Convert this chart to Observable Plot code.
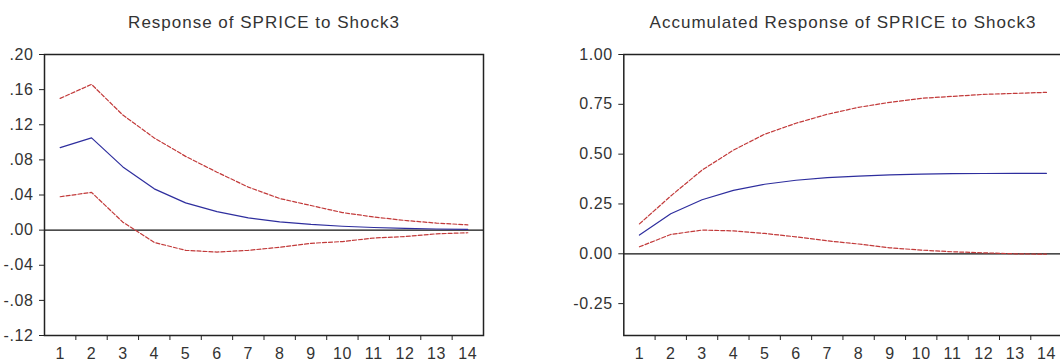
<!DOCTYPE html>
<html>
<head>
<meta charset="utf-8">
<script src="https://cdn.jsdelivr.net/npm/d3@7"></script>
<script src="https://cdn.jsdelivr.net/npm/@observablehq/plot@0.6"></script>
<style>
  html, body { margin: 0; padding: 0; background: #fff; overflow: hidden; width: 1060px; height: 363px; }
  .panel { position: absolute; top: 40px; }
  .title { position: absolute; top: 13.5px; font-family: "Liberation Sans", Arial, sans-serif; font-size: 17px; line-height: 17px; color: #333; letter-spacing: 1px; white-space: nowrap; transform: translateX(-50%); }
</style>
</head>
<body>
<div class="title" style="left:264px">Response of SPRICE to Shock3</div>
<div class="title" style="left:843px">Accumulated Response of SPRICE to Shock3</div>
<div class="panel" id="left" style="left:0px;width:530px"></div>
<div class="panel" id="right" style="left:530px;width:540px"></div>
<script>
// Periods (x categories)
const periods = [1, 2, 3, 4, 5, 6, 7, 8, 9, 10, 11, 12, 13, 14];

// Response of SPRICE to Shock3 (impulse response, +/- 2 S.E.)
const response      = [0.094, 0.105, 0.072, 0.047, 0.031, 0.021, 0.014, 0.0095, 0.0065, 0.0044, 0.003, 0.002, 0.0013, 0.0009];
const responseUpper = [0.150, 0.166, 0.131, 0.105, 0.084, 0.066, 0.049, 0.036, 0.028, 0.020, 0.015, 0.011, 0.008, 0.006];
const responseLower = [0.038, 0.043, 0.009, -0.014, -0.023, -0.025, -0.023, -0.0195, -0.015, -0.013, -0.009, -0.0073, -0.0042, -0.003];

// Accumulated response of SPRICE to Shock3
const accumulated      = [0.094, 0.201, 0.271, 0.318, 0.349, 0.369, 0.382, 0.390, 0.396, 0.400, 0.402, 0.403, 0.404, 0.404];
const accumulatedUpper = [0.150, 0.290, 0.420, 0.520, 0.600, 0.655, 0.700, 0.735, 0.760, 0.780, 0.790, 0.800, 0.805, 0.810];
const accumulatedLower = [0.035, 0.097, 0.119, 0.115, 0.102, 0.085, 0.065, 0.049, 0.030, 0.0185, 0.010, 0.005, 0.000, -0.002];

// Tick labels
const leftYTicks  = [-0.12, -0.08, -0.04, 0, 0.04, 0.08, 0.12, 0.16, 0.20];
const rightYTicks = [-0.25, 0, 0.25, 0.50, 0.75, 1.00];

const BLUE = "#2e2e9e";
const RED = "#c23a3a";

function series(values) {
  return periods.map((p, i) => ({period: p, value: values[i]}));
}

function panel({mid, upper, lower, yDomain, yTicks, yFormat, width, marginLeft, marginRight}) {
  const boundaries = periods.slice(0, -1).map(p => p + 0.5);
  return Plot.plot({
    width,
    height: 323,
    marginTop: 14,
    marginBottom: 28,
    marginLeft,
    marginRight,
    style: "font-family: 'Liberation Sans', Arial, sans-serif; font-size: 16px; color: #333; background: transparent; overflow: visible; letter-spacing: 0.6px;",
    x: {domain: [0.5, 14.5]},
    y: {domain: yDomain},
    marks: [
      Plot.ruleY([0], {stroke: "#111", strokeWidth: 1.2}),
      Plot.line(series(upper), {x: "period", y: "value", stroke: RED, strokeWidth: 1.2, strokeDasharray: "4,2"}),
      Plot.line(series(lower), {x: "period", y: "value", stroke: RED, strokeWidth: 1.2, strokeDasharray: "4,2"}),
      Plot.line(series(mid), {x: "period", y: "value", stroke: BLUE, strokeWidth: 1.2}),
      Plot.frame({stroke: "#222", strokeWidth: 1.5}),
      Plot.axisY({ticks: yTicks, tickFormat: yFormat, tickSize: 5, tickPadding: 6, label: null, stroke: "#222"}),
      Plot.axisX({ticks: boundaries, tickFormat: () => "", tickSize: 5, label: null, stroke: "#222"}),
      Plot.axisX({ticks: periods, tickSize: 0, tickPadding: 12, label: null})
    ]
  });
}

document.getElementById("left").append(panel({
  mid: response, upper: responseUpper, lower: responseLower,
  yDomain: [-0.12, 0.20], yTicks: leftYTicks,
  yFormat: d => d.toFixed(2).replace("0.", "."),
  width: 530, marginLeft: 44, marginRight: 47
}));

document.getElementById("right").append(panel({
  mid: accumulated, upper: accumulatedUpper, lower: accumulatedLower,
  yDomain: [-0.41, 1.00], yTicks: rightYTicks,
  yFormat: d => d.toFixed(2),
  width: 540, marginLeft: 93.3, marginRight: 8.4
}));
</script>
</body>
</html>
